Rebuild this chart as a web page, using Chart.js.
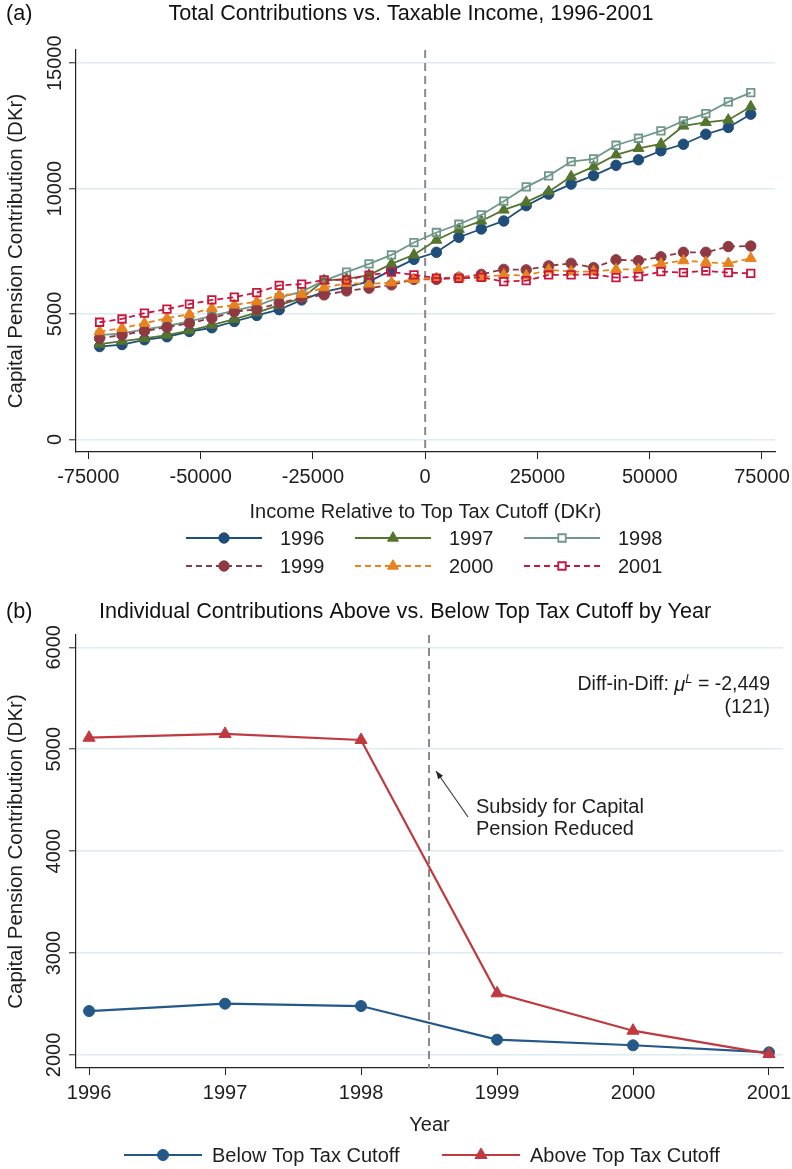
<!DOCTYPE html>
<html>
<head>
<meta charset="utf-8">
<title>Capital pension contributions</title>
<script src="https://cdn.jsdelivr.net/npm/chart.js@4.4.1/dist/chart.umd.min.js"></script>
<style>
  html, body { margin: 0; padding: 0; background: #ffffff; }
  #page { position: relative; width: 792px; height: 1169px; overflow: hidden; }
  .panel { position: absolute; left: 0; width: 792px; }
  #panelA { top: 0; height: 590px; }
  #panelB { top: 590px; height: 579px; }
</style>
</head>
<body>
<div id="page">
  <div class="panel" id="panelA"><canvas id="chartA" width="792" height="590"></canvas></div>
  <div class="panel" id="panelB"><canvas id="chartB" width="792" height="579"></canvas></div>
</div>
<script>
// ---- Panel (a): contributions by income bin, one series per year ----
const incomeBins = [-72500, -67500, -62500, -57500, -52500, -47500, -42500, -37500, -32500, -27500,
                    -22500, -17500, -12500, -7500, -2500, 2500, 7500, 12500, 17500, 22500,
                    27500, 32500, 37500, 42500, 47500, 52500, 57500, 62500, 67500, 72500];
const contrib1996 = [3700, 3780, 3970, 4090, 4300, 4450, 4700, 4940, 5170, 5560,
                     5880, 6080, 6290, 6750, 7180, 7460, 8060, 8390, 8710, 9320,
                     9780, 10180, 10520, 10930, 11150, 11510, 11770, 12170, 12440, 12970];
const contrib1997 = [3800, 3920, 4030, 4160, 4340, 4560, 4790, 5050, 5350, 5630,
                     6330, 6400, 6550, 7000, 7360, 7950, 8380, 8710, 9150, 9460,
                     9880, 10480, 10880, 11350, 11610, 11780, 12500, 12640, 12740, 13270];
const contrib1998 = [4160, 4230, 4390, 4520, 4700, 4920, 5130, 5330, 5650, 5890,
                     6330, 6670, 7000, 7360, 7850, 8250, 8580, 8950, 9500, 10070,
                     10510, 11080, 11190, 11730, 12010, 12300, 12700, 12990, 13460, 13830];
const contrib1999 = [4030, 4160, 4320, 4470, 4630, 4830, 5090, 5190, 5430, 5650,
                     5760, 5920, 6030, 6160, 6380, 6380, 6450, 6580, 6780, 6760,
                     6920, 7020, 6850, 7160, 7130, 7280, 7460, 7460, 7690, 7710];
const contrib2000 = [4300, 4430, 4630, 4830, 4990, 5230, 5360, 5490, 5760, 5790,
                     6050, 6230, 6200, 6250, 6380, 6420, 6460, 6460, 6560, 6530,
                     6760, 6690, 6690, 6780, 6780, 7000, 7130, 7060, 7020, 7220];
const contrib2001 = [4670, 4800, 5030, 5190, 5390, 5560, 5670, 5850, 6140, 6190,
                     6360, 6360, 6550, 6670, 6560, 6430, 6420, 6460, 6290, 6330,
                     6560, 6560, 6580, 6450, 6490, 6690, 6650, 6720, 6650, 6620];
const incomeTicks = [-75000, -50000, -25000, 0, 25000, 50000, 75000];
const contribTicksA = [0, 5000, 10000, 15000];

// ---- Panel (b): mean contribution above / below the cutoff by year ----
const years = [1996, 1997, 1998, 1999, 2000, 2001];
const belowCutoff = [2431, 2503, 2480, 2150, 2095, 2026];
const aboveCutoff = [5113, 5150, 5091, 2605, 2238, 2010];
const contribTicksB = [2000, 3000, 4000, 5000, 6000];

const FONT = "'Liberation Sans', Arial, Helvetica, sans-serif";
const TEXT = '#1e1e1e';
const GRID = '#dcecf1';
const AXIS = '#222222';
const LABEL_SIZE = 20;
Chart.defaults.font.family = FONT;
Chart.defaults.color = TEXT;

function pairs(xs, ys) { return xs.map((x, i) => ({ x: x, y: ys[i] })); }

function series(label, xs, ys, color, style, dashed, hollow, order) {
  const r = style === 'circle' ? 5.2 : (style === 'triangle' ? 6.3 : 5.3);
  return {
    label: label,
    data: pairs(xs, ys),
    borderColor: color,
    backgroundColor: color,
    borderWidth: 1.8,
    borderDash: dashed ? [6, 4] : [],
    pointStyle: style,
    pointRadius: r,
    pointHoverRadius: r,
    pointBackgroundColor: hollow ? 'rgba(255,255,255,0)' : color,
    pointBorderColor: color,
    pointBorderWidth: hollow ? 1.8 : 1,
    hollow: hollow,
    order: order,
    tension: 0
  };
}

function fallbackPoint(ctx, style, r, x, y) {
  ctx.beginPath();
  if (style === 'circle') ctx.arc(x, y, r, 0, Math.PI * 2);
  else if (style === 'triangle') {
    ctx.moveTo(x, y - r);
    ctx.lineTo(x + r * Math.cos(Math.PI / 6), y + r / 2);
    ctx.lineTo(x - r * Math.cos(Math.PI / 6), y + r / 2);
    ctx.closePath();
  } else {
    const s = r * Math.SQRT1_2;
    ctx.rect(x - s, y - s, 2 * s, 2 * s);
  }
  ctx.fill();
  ctx.stroke();
}

function drawMarker(ctx, ds, x, y) {
  ctx.save();
  ctx.setLineDash([]);
  ctx.fillStyle = ds.hollow ? '#ffffff' : ds.pointBackgroundColor;
  ctx.strokeStyle = ds.pointBorderColor;
  ctx.lineWidth = ds.pointBorderWidth;
  if (Chart.helpers && Chart.helpers.drawPoint) {
    Chart.helpers.drawPoint(ctx, { pointStyle: ds.pointStyle, radius: ds.pointRadius,
                                   borderWidth: ds.pointBorderWidth, rotation: 0 }, x, y);
  } else {
    fallbackPoint(ctx, ds.pointStyle, ds.pointRadius, x, y);
  }
  ctx.restore();
}

// Legend entries: line sample with the marker in its middle, label to the right
const lineLegend = {
  id: 'lineLegend',
  afterDraw(chart, args, opts) {
    const ctx = chart.ctx;
    const dsets = chart.data.datasets;
    opts.items.forEach((it, i) => {
      const ds = dsets[i];
      ctx.save();
      ctx.strokeStyle = ds.borderColor;
      ctx.lineWidth = ds.borderWidth;
      ctx.setLineDash(ds.borderDash || []);
      ctx.beginPath();
      ctx.moveTo(it.x, it.y);
      ctx.lineTo(it.x + opts.length, it.y);
      ctx.stroke();
      ctx.restore();
      drawMarker(ctx, ds, it.x + opts.length / 2, it.y);
      ctx.save();
      ctx.fillStyle = TEXT;
      ctx.font = LABEL_SIZE + 'px ' + FONT;
      ctx.textAlign = 'left';
      ctx.textBaseline = 'middle';
      ctx.fillText(ds.label, it.x + opts.length + opts.gap, it.y + 1);
      ctx.restore();
    });
  }
};

// Dashed vertical reference line at the given x value
const refLine = {
  id: 'refLine',
  beforeDatasetsDraw(chart, args, opts) {
    const ctx = chart.ctx;
    const x = chart.scales.x.getPixelForValue(opts.value);
    const { top, bottom } = chart.chartArea;
    ctx.save();
    ctx.strokeStyle = '#8a8a8a';
    ctx.lineWidth = 2;
    ctx.setLineDash([8, 5]);
    ctx.beginPath();
    ctx.moveTo(x, top);
    ctx.lineTo(x, bottom);
    ctx.stroke();
    ctx.restore();
  }
};

// Vertical (rotated) y tick labels
const rotatedYTicks = {
  id: 'rotatedYTicks',
  afterDraw(chart, args, opts) {
    const ctx = chart.ctx;
    const s = chart.scales.y;
    ctx.save();
    ctx.font = LABEL_SIZE + 'px ' + FONT;
    ctx.fillStyle = TEXT;
    ctx.textAlign = 'center';
    ctx.textBaseline = 'middle';
    s.ticks.forEach(t => {
      const y = s.getPixelForValue(t.value);
      ctx.save();
      ctx.translate(opts.x, y);
      ctx.rotate(-Math.PI / 2);
      ctx.fillText(String(t.value), 0, 0);
      ctx.restore();
    });
    ctx.restore();
  }
};

// Panel tag and heading
const headings = {
  id: 'headings',
  afterDraw(chart, args, opts) {
    const ctx = chart.ctx;
    ctx.save();
    ctx.fillStyle = '#111111';
    ctx.font = '21.6px ' + FONT;
    ctx.textBaseline = 'middle';
    ctx.textAlign = 'left';
    ctx.fillText(opts.tag, 6, opts.y);
    ctx.textAlign = 'center';
    ctx.fillText(opts.text, opts.cx, opts.y);
    ctx.restore();
  }
};

function yScale(min, max, tickList, titleText) {
  return {
    type: 'linear',
    min: min,
    max: max,
    afterBuildTicks: s => { s.ticks = tickList.map(v => ({ value: v })); },
    afterFit: s => { s.width = 76; s.paddingTop = 0; s.paddingBottom = 0; },
    ticks: { display: false },
    grid: { color: GRID, lineWidth: 1.6, drawTicks: true, tickLength: 7, tickColor: AXIS, tickWidth: 1 },
    border: { display: true, color: AXIS, width: 1.2 },
    title: { display: true, text: titleText, color: TEXT, font: { size: 20.5 }, padding: { top: 4, bottom: 0 } }
  };
}

function xScale(min, max, tickList, titleText, height) {
  return {
    type: 'linear',
    min: min,
    max: max,
    afterBuildTicks: s => { s.ticks = tickList.map(v => ({ value: v })); },
    afterFit: s => { s.height = height; s.paddingLeft = 0; s.paddingRight = 0; },
    ticks: { color: TEXT, font: { size: LABEL_SIZE }, padding: 6, maxRotation: 0, autoSkip: false,
             callback: v => String(v) },
    grid: { drawOnChartArea: false, drawTicks: true, tickLength: 7, tickColor: AXIS, tickWidth: 1 },
    border: { display: true, color: AXIS, width: 1.2 },
    title: { display: true, text: titleText, color: TEXT, font: { size: 20 }, padding: { top: 0, bottom: 0 } }
  };
}

// ---- Chart (a) ----
const NAVY = '#1f4e7a', FOREST = '#55752f', TEAL = '#6f978a';
const MAROON = '#8f3a42', DKORANGE = '#e8821e', CRANBERRY = '#c8163f';

new Chart(document.getElementById('chartA'), {
  type: 'line',
  data: {
    datasets: [
      series('1996', incomeBins, contrib1996, NAVY, 'circle', false, false, 6),
      series('1997', incomeBins, contrib1997, FOREST, 'triangle', false, false, 5),
      series('1998', incomeBins, contrib1998, TEAL, 'rect', false, true, 4),
      series('1999', incomeBins, contrib1999, MAROON, 'circle', true, false, 3),
      series('2000', incomeBins, contrib2000, DKORANGE, 'triangle', true, false, 2),
      series('2001', incomeBins, contrib2001, CRANBERRY, 'rect', true, true, 1)
    ]
  },
  options: {
    responsive: false,
    animation: false,
    events: [],
    layout: { padding: { top: 50, right: 17, bottom: 66, left: 0 } },
    scales: {
      x: xScale(-77750, 77900, incomeTicks, 'Income Relative to Top Tax Cutoff (DKr)', 72),
      y: yScale(-506, 15530, contribTicksA, 'Capital Pension Contribution (DKr)')
    },
    plugins: {
      legend: { display: false },
      tooltip: { enabled: false },
      refLine: { value: 0 },
      rotatedYTicks: { x: 55 },
      headings: { tag: '(a)', text: 'Total Contributions vs. Taxable Income, 1996-2001', cx: 411, y: 14 },
      lineLegend: {
        length: 76, gap: 18,
        items: [ { x: 186, y: 538 }, { x: 355, y: 538 }, { x: 524, y: 538 },
                 { x: 186, y: 566 }, { x: 355, y: 566 }, { x: 524, y: 566 } ]
      }
    }
  },
  plugins: [refLine, rotatedYTicks, headings, lineLegend]
});

// ---- Chart (b) ----
const BLUE_B = '#245888', RED_B = '#c0393f';

const diffNote = {
  id: 'diffNote',
  afterDraw(chart) {
    const ctx = chart.ctx;
    const area = chart.chartArea;
    const xs = chart.scales.x;
    ctx.save();
    ctx.fillStyle = TEXT;
    ctx.textBaseline = 'middle';
    // Diff-in-Diff estimate, right aligned inside the plot
    const right = area.right - 13;
    const yLine = 95;
    const parts = [
      { t: 'Diff-in-Diff: ', f: '19.5px ' + FONT, dy: 0 },
      { t: '\u03BC', f: 'italic 20px ' + FONT, dy: 0 },
      { t: 'L', f: 'italic 13px ' + FONT, dy: -6 },
      { t: ' = -2,449', f: '19.5px ' + FONT, dy: 0 }
    ];
    let total = 0;
    parts.forEach(p => { ctx.font = p.f; p.w = ctx.measureText(p.t).width; total += p.w; });
    let x = right - total;
    ctx.textAlign = 'left';
    parts.forEach(p => { ctx.font = p.f; ctx.fillText(p.t, x, yLine + p.dy); x += p.w; });
    ctx.font = '19.5px ' + FONT;
    ctx.textAlign = 'right';
    ctx.fillText('(121)', right, 118);

    // Arrow pointing at the reform line
    const lineX = xs.getPixelForValue(1998.5);
    const tip = { x: lineX + 7, y: 181 };
    const tail = { x: lineX + 39, y: 227 };
    ctx.strokeStyle = '#333333';
    ctx.fillStyle = '#222222';
    ctx.lineWidth = 1.1;
    ctx.beginPath();
    ctx.moveTo(tail.x, tail.y);
    ctx.lineTo(tip.x, tip.y);
    ctx.stroke();
    const ang = Math.atan2(tip.y - tail.y, tip.x - tail.x);
    ctx.beginPath();
    ctx.moveTo(tip.x, tip.y);
    ctx.lineTo(tip.x - 8 * Math.cos(ang) + 3 * Math.sin(ang), tip.y - 8 * Math.sin(ang) - 3 * Math.cos(ang));
    ctx.lineTo(tip.x - 8 * Math.cos(ang) - 3 * Math.sin(ang), tip.y - 8 * Math.sin(ang) + 3 * Math.cos(ang));
    ctx.closePath();
    ctx.fill();

    ctx.fillStyle = TEXT;
    ctx.font = LABEL_SIZE + 'px ' + FONT;
    ctx.textAlign = 'left';
    ctx.fillText('Subsidy for Capital', lineX + 47, 217);
    ctx.fillText('Pension Reduced', lineX + 47, 239);
    ctx.restore();
  }
};

function seriesB(label, ys, color, style, order) {
  const r = style === 'circle' ? 5.5 : 7;
  return {
    label: label,
    data: pairs(years, ys),
    borderColor: color,
    backgroundColor: color,
    borderWidth: 2.2,
    borderDash: [],
    pointStyle: style,
    pointRadius: r,
    pointHoverRadius: r,
    pointBackgroundColor: color,
    pointBorderColor: color,
    pointBorderWidth: 1,
    hollow: false,
    order: order,
    tension: 0
  };
}

new Chart(document.getElementById('chartB'), {
  type: 'line',
  data: {
    datasets: [
      seriesB('Below Top Tax Cutoff', belowCutoff, BLUE_B, 'circle', 2),
      seriesB('Above Top Tax Cutoff', aboveCutoff, RED_B, 'triangle', 1)
    ]
  },
  options: {
    responsive: false,
    animation: false,
    events: [],
    layout: { padding: { top: 45, right: 9, bottom: 32, left: 0 } },
    scales: {
      x: xScale(1995.904, 2001.103, years, 'Year', 69),
      y: yScale(1872, 6121, contribTicksB, 'Capital Pension Contribution (DKr)')
    },
    plugins: {
      legend: { display: false },
      tooltip: { enabled: false },
      refLine: { value: 1998.5 },
      rotatedYTicks: { x: 54 },
      headings: { tag: '(b)', text: 'Individual Contributions Above vs. Below Top Tax Cutoff by Year', cx: 405, y: 22 },
      lineLegend: {
        length: 78, gap: 10,
        items: [ { x: 124, y: 565 }, { x: 442, y: 565 } ]
      }
    }
  },
  plugins: [refLine, rotatedYTicks, headings, diffNote, lineLegend]
});
</script>
</body>
</html>
